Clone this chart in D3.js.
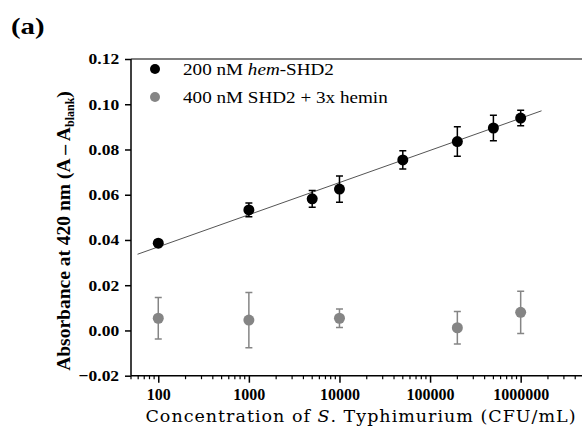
<!DOCTYPE html>
<html lang="en">
<head>
  <meta charset="UTF-8">
  <title>Absorbance vs S. Typhimurium</title>
  <script src="https://d3js.org/d3.v7.min.js"></script>
  <style>
    body { margin: 0; background: #fff; }
    svg { display: block; }
  </style>
</head>
<body>
  <svg></svg>
  <script>
    // hem-SHD2 (black)
    const hemConc = [100, 1000, 5000, 10000, 50000, 200000, 500000, 1000000];
    const hemAbs  = [0.0386, 0.0533, 0.0582, 0.0625, 0.0754, 0.0835, 0.0895, 0.0939];
    const hemErr  = [0.0015, 0.0030, 0.0037, 0.0058, 0.0040, 0.0065, 0.0056, 0.0034];

    // SHD2 + 3x hemin (gray)
    const heminConc = [100, 1000, 10000, 200000, 1000000];
    const heminAbs  = [0.0054, 0.0046, 0.0054, 0.0012, 0.0080];
    const heminErr  = [0.0092, 0.0122, 0.0041, 0.0072, 0.0093];

    // linear fit on log10(x): y = a + b*log10(x)
    const fitA = 0.0085, fitB = 0.01422;
    const fitRange = [59, 1.7e6];

    const yTicks = [-0.02, 0, 0.02, 0.04, 0.06, 0.08, 0.10, 0.12];
    const xTicks = [100, 1000, 10000, 100000, 1000000];

    const W = 582, H = 429;
    const svg = d3.select("svg").attr("width", W).attr("height", H);

    const x = d3.scaleLog().domain([50, 5e6]).range([131, 584]);
    const y = d3.scaleLinear().domain([-0.02, 0.12]).range([375.7, 59]);

    const serif = "'Liberation Serif', 'Times New Roman', serif";

    // the original figure's text is a bit wider than the font, stretch it
    function stretchedText(parent, px, py, sx) {
      return parent.append("text")
        .attr("transform", `translate(${px},${py}) scale(${sx},1)`);
    }

    // top frame line
    svg.append("line")
      .attr("x1", 131).attr("x2", W).attr("y1", 59).attr("y2", 59)
      .attr("stroke", "#555").attr("stroke-width", 1.5);

    // minor x ticks
    const minor = [];
    for (let e = 1; e <= 6; e++) for (let m = 2; m <= 9; m++) {
      const v = m * Math.pow(10, e);
      if (v >= 50 && v <= 5e6) minor.push(v);
    }
    svg.append("g").selectAll("line").data(minor).join("line")
      .attr("x1", d => x(d)).attr("x2", d => x(d))
      .attr("y1", y(-0.02)).attr("y2", y(-0.02) + 3.5)
      .attr("stroke", "#000").attr("stroke-width", 1.2);

    // x axis
    const xAxis = svg.append("g")
      .attr("transform", `translate(0,${y(-0.02)})`)
      .call(d3.axisBottom(x).tickValues(xTicks).tickFormat(d3.format("d")).tickSize(7).tickPadding(6));
    xAxis.select(".domain").attr("stroke-width", 1.5).attr("d", `M131,0H${W}`);
    xAxis.selectAll(".tick line").attr("stroke-width", 1.5);
    xAxis.selectAll("text").attr("font-family", serif).attr("font-weight", "bold")
      .attr("font-size", 16).attr("fill", "#000");

    // y axis
    const yAxis = svg.append("g")
      .attr("transform", "translate(131,0)")
      .call(d3.axisLeft(y).tickValues(yTicks).tickFormat(d3.format(".2f")).tickSize(6).tickPadding(4.5));
    yAxis.select(".domain").attr("stroke-width", 1.5).attr("d", `M0,59V${y(-0.02)}`);
    yAxis.selectAll(".tick line").attr("stroke-width", 1.5);
    yAxis.selectAll("text").attr("font-family", serif).attr("font-weight", "bold")
      .attr("font-size", 15.5).attr("fill", "#000")
      .attr("transform", "scale(1.13,1)");

    // fit line
    svg.append("line")
      .attr("x1", x(fitRange[0])).attr("y1", y(fitA + fitB * Math.log10(fitRange[0])))
      .attr("x2", x(fitRange[1])).attr("y2", y(fitA + fitB * Math.log10(fitRange[1])))
      .attr("stroke", "#555").attr("stroke-width", 1);

    function series(conc, vals, errs, color) {
      const g = svg.append("g");
      const rows = conc.map((c, i) => ({ c, v: vals[i], e: errs[i] }));
      g.selectAll("path.err").data(rows).join("path")
        .attr("class", "err")
        .attr("d", d => {
          const cx = x(d.c), t = y(d.v + d.e), b = y(d.v - d.e);
          return `M${cx},${t}V${b}M${cx - 3.5},${t}H${cx + 3.5}M${cx - 3.5},${b}H${cx + 3.5}`;
        })
        .attr("stroke", color).attr("stroke-width", 1.5).attr("fill", "none");
      g.selectAll("circle").data(rows).join("circle")
        .attr("cx", d => x(d.c)).attr("cy", d => y(d.v)).attr("r", 5.5)
        .attr("fill", color);
    }
    series(heminConc, heminAbs, heminErr, "#858585");
    series(hemConc, hemAbs, hemErr, "#000");

    // legend
    const leg = svg.append("g").attr("font-family", serif).attr("font-size", 16.5);
    leg.append("circle").attr("cx", 155).attr("cy", 69).attr("r", 5).attr("fill", "#000");
    leg.append("circle").attr("cx", 155).attr("cy", 97).attr("r", 5).attr("fill", "#858585");
    const t1 = stretchedText(leg, 183, 75, 1.16);
    t1.append("tspan").text("200 nM ");
    t1.append("tspan").attr("font-style", "italic").text("hem");
    t1.append("tspan").text("-SHD2");
    stretchedText(leg, 183, 103, 1.16).text("400 nM SHD2 + 3x hemin");

    // y label
    const yl = svg.append("text")
      .attr("transform", "translate(70,231) rotate(-90)")
      .attr("text-anchor", "middle")
      .attr("font-family", serif).attr("font-weight", "bold").attr("font-size", 19.5);
    yl.append("tspan").text("Absorbance at 420 nm (A \u2013 A");
    yl.append("tspan").attr("font-size", 12).attr("dy", 4).text("blank");
    yl.append("tspan").attr("dy", -4).text(")");

    // x label
    const xl = svg.append("text")
      .attr("x", 361).attr("y", 422)
      .attr("text-anchor", "middle")
      .attr("font-family", "'DejaVu Serif', serif").attr("font-size", 17.5)
      .attr("letter-spacing", 1);
    xl.append("tspan").text("Concentration of ");
    xl.append("tspan").attr("font-style", "italic").text("S");
    xl.append("tspan").text(". Typhimurium (CFU/mL)");

    // panel label
    stretchedText(svg, 11, 34, 1.2)
      .attr("font-family", serif).attr("font-weight", "bold").attr("font-size", 24)
      .text("(a)");
  </script>
</body>
</html>
